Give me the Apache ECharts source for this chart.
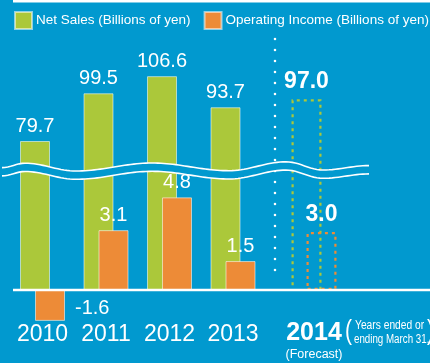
<!DOCTYPE html>
<html>
<head>
<meta charset="utf-8">
<script src="https://cdn.jsdelivr.net/npm/echarts@6/dist/echarts.min.js"></script>
<style>
  html, body { margin: 0; padding: 0; background: #0199cf; overflow: hidden; }
  #chart { width: 430px; height: 363px; }
</style>
</head>
<body>
<div id="chart"></div>
<script>
// Fiscal years (actual results) and the forecast year
const years = ['2010', '2011', '2012', '2013'];
const forecastYears = ['2014'];

// Net sales, billions of yen
const netSales = [79.7, 99.5, 106.6, 93.7];
const forecastSales = [97.0];

// Operating income, billions of yen
const operatingIncome = [-1.6, 3.1, 4.8, 1.5];
const forecastIncome = [3.0];

const SALES_NAME = 'Net Sales (Billions of yen)';
const INCOME_NAME = 'Operating Income (Billions of yen)';

// Colours and fonts
const BLUE = '#0199cf';
const GREEN = '#abc83a';
const ORANGE = '#ed8b37';
const EDGE = 'rgba(255,255,255,0.55)';
const SANS = "'Liberation Sans', Arial, Helvetica, sans-serif";

// Broken value axis: net sales use a coarse scale that reaches down to the zero line,
// operating income a fine scale around zero; a wave hides the jump between them.
const ZERO_Y = 290;                        // pixel row of the zero line
const SALES_PX = 2.41, SALES_REF_Y = 141, SALES_REF_V = 79.7, SALES_MAX = 120;
const INCOME_PX = 19.3, INCOME_MIN = -1.7, INCOME_MAX = 6.5;

const salesMin = SALES_REF_V - (ZERO_Y - SALES_REF_Y) / SALES_PX;
const upperTop = SALES_REF_Y - (SALES_MAX - SALES_REF_V) * SALES_PX;
const upperHeight = ZERO_Y - upperTop;
const lowerTop = ZERO_Y - INCOME_MAX * INCOME_PX;
const lowerHeight = (INCOME_MAX - INCOME_MIN) * INCOME_PX;

const BAND = 63.5;                         // width of one year slot
const actualLeft = 10.75;
const forecastLeft = 282.25;

function grid(left, n, top, height) {
  return { left: left, top: top, width: BAND * n, height: height, outerBoundsMode: 'none', containLabel: false };
}

const hiddenY = (min, max, g) => ({
  type: 'value', gridIndex: g, min: min, max: max, show: false, splitLine: { show: false }
});

const fmt = p => Number(p.value).toFixed(1);

const valueLabel = {
  show: true, position: 'top', distance: 5, color: '#fff',
  fontFamily: SANS, fontSize: 20, formatter: fmt
};
const forecastLabel = {
  show: true, position: 'top', distance: 6, color: '#fff',
  fontFamily: SANS, fontSize: 23, fontWeight: 'bold', formatter: fmt
};
const noLabel = { show: false };

const solid = color => ({ color: color, borderColor: EDGE, borderWidth: 1 });
const dashed = color => ({
  color: 'rgba(0,0,0,0)', borderColor: color, borderWidth: 2.2, borderType: [3, 4]
});
const hidden = () => ({ color: 'rgba(0,0,0,0)', borderWidth: 0 });

// Each grid holds a sales bar and an income bar side by side (half overlapping);
// one of the two is the visible mark for that band.
function pair(g, names, sales, income, salesStyle, incomeStyle, salesLabel, incomeLabel) {
  return [
    {
      name: names[0], type: 'bar', xAxisIndex: g, yAxisIndex: g,
      data: sales, barWidth: 30, barGap: '-50%', clip: true,
      itemStyle: salesStyle, label: salesLabel, z: 2
    },
    {
      name: names[1], type: 'bar', xAxisIndex: g, yAxisIndex: g,
      data: income, barWidth: 30, barGap: '-50%', clip: true,
      itemStyle: incomeStyle, label: incomeLabel, z: 3
    }
  ];
}

const incomeItems = operatingIncome.map(v => v < 0
  ? { value: v, label: { position: 'right', distance: 10, offset: [0, 3] } }
  : { value: v });

// Wave marking the break between the two scales
const waveExtremes = [
  [2, 167.6], [25, 163.2], [76, 171.0], [152, 163.0],
  [229, 170.7], [286, 161.8], [323, 170.0], [369, 165.6]
];
const WAVE_GAP = 8.3;
function wavePoints(dy) {
  const pts = [];
  for (let i = 0; i < waveExtremes.length - 1; i++) {
    const [x0, y0] = waveExtremes[i];
    const [x1, y1] = waveExtremes[i + 1];
    const steps = Math.max(4, Math.round((x1 - x0) / 3));
    for (let s = 0; s < steps; s++) {
      const t = s / steps;
      pts.push([x0 + (x1 - x0) * t, y0 + (y1 - y0) * (1 - Math.cos(Math.PI * t)) / 2 + dy]);
    }
  }
  const last = waveExtremes[waveExtremes.length - 1];
  pts.push([last[0], last[1] + dy]);
  return pts;
}
const waveTop = wavePoints(0);
const waveBottom = wavePoints(WAVE_GAP);

const chart = echarts.init(document.getElementById('chart'), null, { renderer: 'canvas' });

const forecastNames = ['Net Sales forecast', 'Operating Income forecast'];

chart.setOption({
  backgroundColor: BLUE,
  animation: false,
  legend: {
    data: [SALES_NAME, INCOME_NAME],
    orient: 'horizontal',
    left: 14, top: 11, width: 700, padding: 0,
    itemWidth: 17, itemHeight: 17, itemGap: 13,
    icon: 'rect',
    textStyle: { color: '#fff', fontFamily: SANS, fontSize: 13.5, padding: [2, 0, 0, -1] }
  },
  grid: [
    grid(actualLeft, years.length, upperTop, upperHeight),
    grid(actualLeft, years.length, lowerTop, lowerHeight),
    grid(forecastLeft, forecastYears.length, upperTop, upperHeight),
    grid(forecastLeft, forecastYears.length, lowerTop, lowerHeight)
  ],
  xAxis: [
    { type: 'category', gridIndex: 0, data: years, show: false },
    {
      type: 'category', gridIndex: 1, data: years, position: 'bottom',
      axisLine: { show: false, onZero: false }, axisTick: { show: false },
      axisLabel: { color: '#fff', fontFamily: SANS, fontSize: 23, margin: 0, interval: 0 }
    },
    { type: 'category', gridIndex: 2, data: forecastYears, show: false },
    {
      type: 'category', gridIndex: 3, data: forecastYears, position: 'bottom',
      axisLine: { show: false, onZero: false }, axisTick: { show: false },
      axisLabel: {
        margin: -2, interval: 0,
        formatter: v => '{y|' + v + '}\n{f|(Forecast)}',
        rich: {
          y: { color: '#fff', fontFamily: SANS, fontSize: 25, fontWeight: 'bold', lineHeight: 25 },
          f: { color: '#fff', fontFamily: SANS, fontSize: 12.5, lineHeight: 18 }
        }
      }
    }
  ],
  yAxis: [
    hiddenY(salesMin, SALES_MAX, 0),
    hiddenY(INCOME_MIN, INCOME_MAX, 1),
    hiddenY(salesMin, SALES_MAX, 2),
    hiddenY(INCOME_MIN, INCOME_MAX, 3)
  ],
  series: [
    ...pair(0, [SALES_NAME, INCOME_NAME], netSales, operatingIncome,
      solid(GREEN), solid(ORANGE), valueLabel, noLabel),
    ...pair(1, [SALES_NAME, INCOME_NAME], netSales, incomeItems,
      hidden(), solid(ORANGE), noLabel, valueLabel),
    ...pair(2, forecastNames, forecastSales, forecastIncome,
      dashed(GREEN), dashed(ORANGE), forecastLabel, noLabel),
    ...pair(3, forecastNames, forecastSales, forecastIncome,
      hidden(), dashed(ORANGE), noLabel, forecastLabel)
  ]
});

// Zero line of the operating income scale
const zeroY = chart.convertToPixel({ yAxisIndex: 1 }, 0);

const note = (text, x, y, size, squeeze) => ({
  type: 'text', x: x, y: y, scaleX: squeeze, z: 60, silent: true,
  style: { text: text, fill: '#fff', font: size + 'px ' + SANS, textVerticalAlign: 'middle' }
});

chart.setOption({
  graphic: [
    { type: 'rect', shape: { x: 13, y: 0, width: 417, height: 2.4 }, style: { fill: '#fff' }, z: 50, silent: true },
    {
      type: 'line', shape: { x1: 275, y1: 39, x2: 275, y2: 281 },
      style: { stroke: '#fff', lineWidth: 2.6, lineDash: [0, 11], lineCap: 'round' }, z: 40, silent: true
    },
    {
      type: 'polygon', shape: { points: waveTop.concat(waveBottom.slice().reverse()) },
      style: { fill: BLUE }, z: 90, silent: true
    },
    { type: 'polyline', shape: { points: waveTop }, style: { stroke: '#fff', lineWidth: 1.6, fill: null }, z: 91, silent: true },
    { type: 'polyline', shape: { points: waveBottom }, style: { stroke: '#fff', lineWidth: 1.6, fill: null }, z: 91, silent: true },
    { type: 'rect', shape: { x: 13, y: zeroY - 1.2, width: 417, height: 2.4 }, style: { fill: '#fff' }, z: 60, silent: true },
    note('(', 345, 332, 27, 0.78),
    note('Years ended or', 355, 326, 12.5, 0.82),
    note('ending March 31,', 354, 340, 12.5, 0.78),
    note(')', 427, 332, 27, 0.78)
  ]
});
</script>
</body>
</html>
